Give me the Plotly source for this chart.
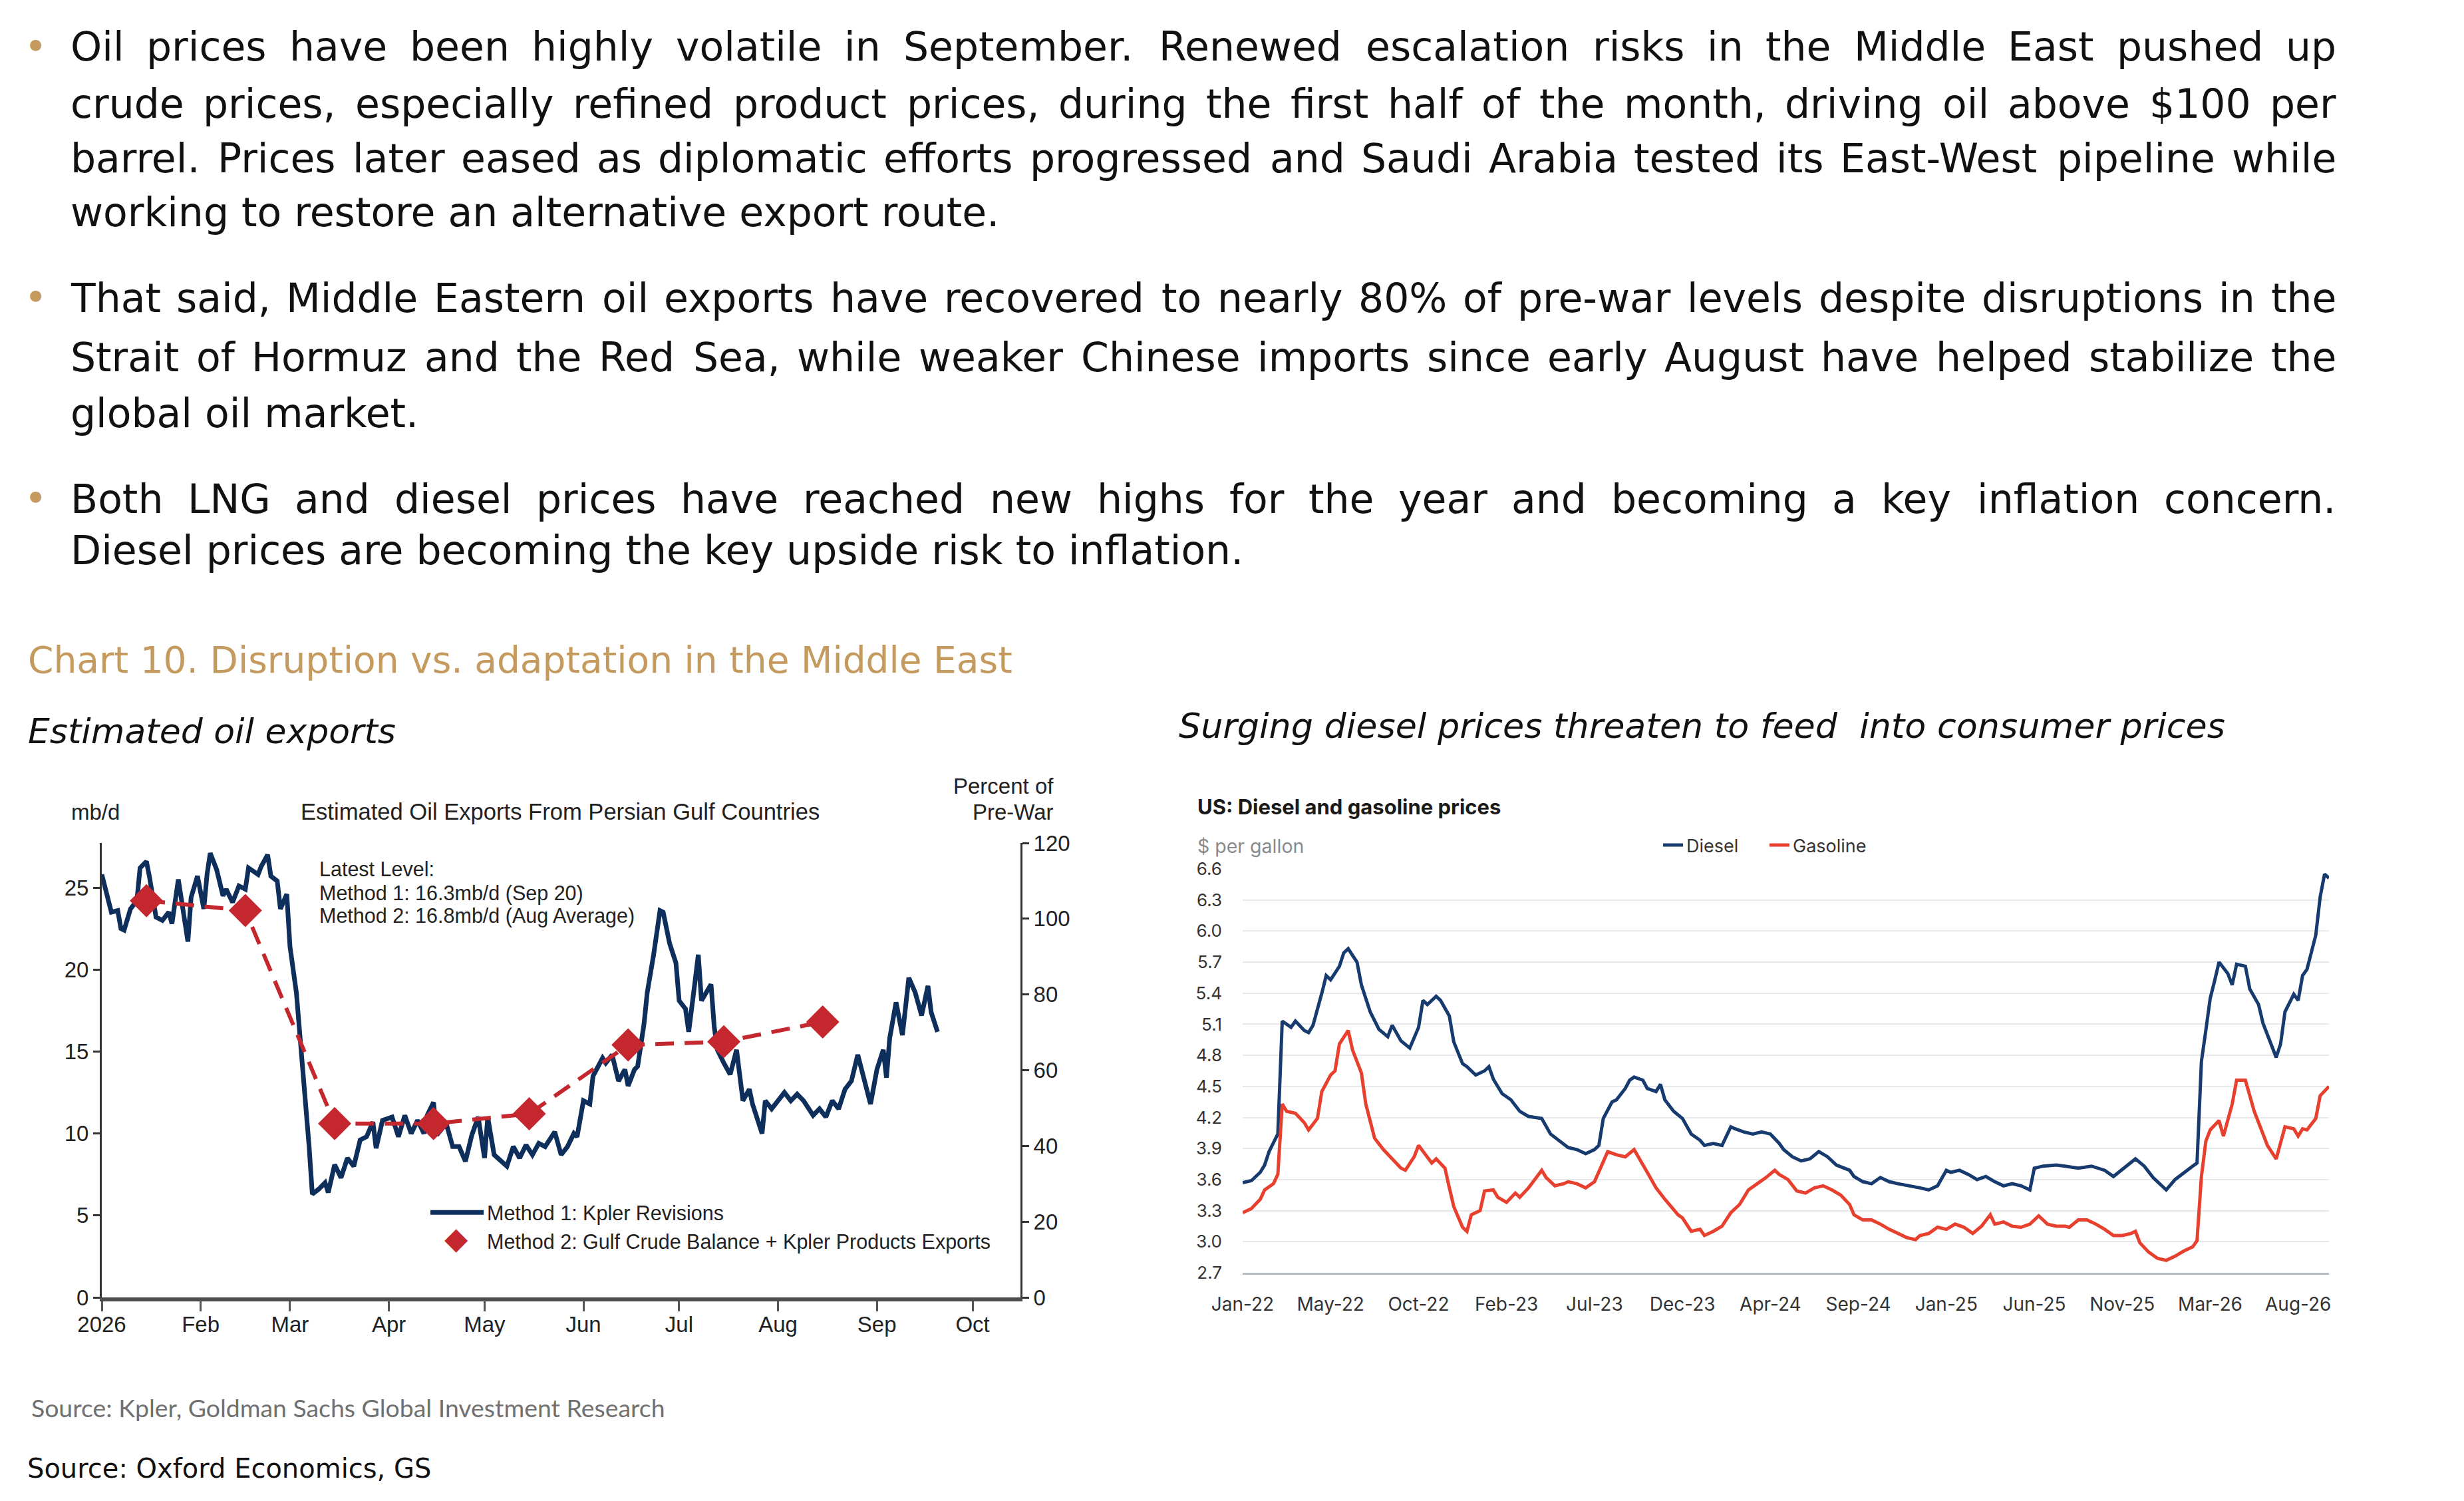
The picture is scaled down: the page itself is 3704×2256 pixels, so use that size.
import pandas as pd
import plotly.graph_objects as go

W, H = 3704, 2256

# ---------------- Left chart: Estimated oil exports (mb/d) ----------------
m1_day = [0, 2, 3, 5, 6, 7, 9, 11, 12, 14,
          15, 17, 19, 21, 22, 24, 27, 28, 30, 32,
          33, 34, 36, 38, 39, 41, 43, 45, 46, 49,
          50, 52, 53, 55, 56, 58, 59, 61, 63, 65,
          66, 68, 70, 71, 73, 75, 77, 79, 81, 83,
          85, 86, 88, 91, 93, 95, 97, 99, 101, 102,
          104, 105, 108, 110, 112, 114, 116, 118, 120, 121,
          123, 125, 127, 129, 131, 133, 135, 137, 139, 142,
          144, 146, 148, 149, 151, 153, 154, 157, 158, 160,
          162, 164, 165, 167, 168, 170, 171, 173, 175, 176,
          178, 180, 181, 183, 184, 186, 187, 188, 191, 192,
          193, 195, 197, 199, 201, 203, 204, 207, 208, 210,
          212, 214, 216, 218, 220, 223, 225, 227, 229, 231,
          233, 235, 237, 240, 241, 243, 245, 246, 247, 249,
          251, 253, 255, 257, 259, 260, 262]
m1_mbd = [25.8, 24.4, 23.5, 23.6, 22.5, 22.4, 23.7, 24.2, 26.2, 26.6,
          25.6, 23.2, 23.0, 23.5, 22.8, 25.5, 21.7, 24.4, 25.7, 23.7,
          25.8, 27.1, 26.1, 24.5, 24.9, 24.1, 25.1, 24.9, 26.2, 25.8,
          26.3, 27.0, 25.7, 25.4, 23.7, 24.6, 21.4, 18.6, 14.1, 9.2,
          6.3, 6.6, 7.0, 6.4, 8.1, 7.3, 8.5, 8.0, 9.6, 9.8,
          10.7, 9.1, 10.8, 11.0, 9.8, 11.1, 10.0, 10.8, 10.0, 11.1,
          11.9, 9.9, 10.6, 9.2, 9.2, 8.3, 9.9, 11.0, 8.5, 11.0,
          8.7, 8.3, 8.0, 9.2, 8.5, 9.3, 8.7, 9.4, 9.2, 10.1,
          8.7, 9.2, 10.0, 9.8, 12.0, 11.8, 13.5, 14.6, 14.3, 14.8,
          13.2, 13.9, 12.9, 13.9, 14.1, 16.7, 18.6, 20.9, 23.6, 23.5,
          21.6, 20.4, 18.1, 17.6, 16.2, 19.3, 20.9, 18.1, 19.1, 16.5,
          15.1, 14.3, 13.6, 15.1, 12.0, 12.7, 11.8, 10.0, 12.0, 11.5,
          12.0, 12.5, 12.0, 12.4, 12.0, 11.1, 11.5, 11.0, 12.0, 11.5,
          12.7, 13.2, 14.8, 12.7, 11.8, 13.9, 15.1, 13.4, 15.8, 18.0,
          16.0, 19.5, 18.6, 17.2, 19.0, 17.4, 16.2]
m2_date = ["2026-01-15", "2026-02-15", "2026-03-15", "2026-04-15",
           "2026-05-15", "2026-06-15", "2026-07-15", "2026-08-15"]
m2_mbd = [24.2, 23.6, 10.6, 10.6, 11.2, 15.4, 15.6, 16.8]
PREWAR_MBD = 23.1
left_month_ticks = ["2026-01-01", "2026-02-01", "2026-03-01", "2026-04-01", "2026-05-01",
                    "2026-06-01", "2026-07-01", "2026-08-01", "2026-09-01", "2026-10-01"]
left_month_labels = ["2026", "Feb", "Mar", "Apr", "May", "Jun", "Jul", "Aug", "Sep", "Oct"]
left_yticks = [0, 5, 10, 15, 20, 25]
right_yticks = [0, 20, 40, 60, 80, 100, 120]

# ---------------- Right chart: US diesel and gasoline ($/gallon, weekly) ----------------
start_week = "2022-01-03"
diesel_week = [0, 2, 4, 5, 6, 7, 8, 9, 11, 12,
               14, 15, 16, 18, 19, 20, 22, 23, 24, 26,
               27, 29, 31, 33, 34, 36, 38, 40, 41, 42,
               44, 45, 47, 48, 50, 51, 53, 55, 56, 57,
               59, 61, 63, 65, 68, 70, 72, 74, 76, 78,
               80, 81, 82, 84, 85, 87, 88, 89, 91, 92,
               94, 95, 96, 98, 100, 102, 104, 105, 107, 109,
               111, 112, 114, 116, 118, 120, 122, 123, 125, 127,
               129, 131, 133, 135, 138, 139, 141, 143, 145, 147,
               149, 152, 154, 156, 158, 160, 161, 163, 165, 167,
               169, 171, 173, 175, 177, 179, 180, 182, 185, 187,
               190, 193, 196, 198, 201, 203, 205, 207, 209, 210,
               212, 214, 216, 217, 218, 219, 220, 221, 222, 224,
               225, 226, 228, 229, 231, 232, 234, 235, 236, 237,
               239, 240, 241, 242, 244, 245, 246, 247]
diesel_price = [3.57, 3.59, 3.67, 3.74, 3.87, 3.95, 4.04, 5.13, 5.07, 5.13,
                5.04, 5.02, 5.09, 5.40, 5.57, 5.53, 5.66, 5.79, 5.83, 5.70,
                5.48, 5.22, 5.05, 4.98, 5.09, 4.94, 4.87, 5.07, 5.33, 5.29,
                5.37, 5.33, 5.18, 4.93, 4.72, 4.69, 4.61, 4.65, 4.69, 4.57,
                4.43, 4.37, 4.26, 4.21, 4.19, 4.04, 3.97, 3.91, 3.89, 3.85,
                3.89, 3.93, 4.19, 4.35, 4.37, 4.48, 4.56, 4.59, 4.56, 4.48,
                4.45, 4.52, 4.37, 4.26, 4.19, 4.04, 3.98, 3.93, 3.95, 3.93,
                4.11, 4.09, 4.06, 4.04, 4.06, 4.04, 3.95, 3.89, 3.82, 3.78,
                3.80, 3.87, 3.82, 3.74, 3.69, 3.63, 3.58, 3.56, 3.62, 3.58,
                3.56, 3.54, 3.52, 3.50, 3.54, 3.69, 3.67, 3.69, 3.65, 3.60,
                3.63, 3.58, 3.54, 3.56, 3.54, 3.50, 3.71, 3.73, 3.74, 3.73,
                3.71, 3.73, 3.69, 3.63, 3.73, 3.80, 3.73, 3.62, 3.54, 3.50,
                3.60, 3.67, 3.73, 3.76, 4.74, 5.04, 5.35, 5.52, 5.70, 5.59,
                5.48, 5.68, 5.66, 5.44, 5.29, 5.11, 4.89, 4.78, 4.91, 5.22,
                5.39, 5.33, 5.57, 5.63, 5.96, 6.33, 6.55, 6.51]
gas_week = [0, 2, 4, 5, 7, 8, 9, 10, 12, 14,
            15, 17, 18, 20, 21, 22, 24, 25, 27, 28,
            30, 32, 34, 36, 37, 39, 40, 41, 43, 44,
            46, 47, 48, 50, 51, 52, 54, 55, 57, 58,
            60, 62, 63, 65, 67, 68, 69, 71, 73, 74,
            76, 78, 80, 82, 83, 85, 87, 89, 90, 92,
            94, 96, 99, 100, 102, 104, 105, 107, 109, 111,
            113, 115, 117, 119, 121, 122, 124, 126, 128, 130,
            132, 134, 136, 138, 139, 141, 143, 145, 147, 149,
            151, 153, 154, 156, 158, 160, 162, 164, 166, 168,
            170, 171, 173, 175, 177, 179, 181, 183, 185, 187,
            188, 190, 192, 194, 196, 198, 200, 202, 203, 204,
            206, 208, 210, 212, 214, 216, 217, 218, 219, 220,
            222, 223, 225, 226, 228, 229, 230, 232, 233, 235,
            236, 237, 239, 240, 241, 242, 244, 245, 247]
gas_price = [3.28, 3.32, 3.41, 3.50, 3.56, 3.65, 4.33, 4.26, 4.24, 4.15,
             4.08, 4.19, 4.45, 4.61, 4.65, 4.91, 5.04, 4.85, 4.63, 4.33,
             4.00, 3.89, 3.80, 3.71, 3.69, 3.82, 3.93, 3.87, 3.76, 3.80,
             3.71, 3.52, 3.34, 3.14, 3.10, 3.26, 3.30, 3.49, 3.50, 3.43,
             3.38, 3.47, 3.43, 3.52, 3.63, 3.69, 3.62, 3.54, 3.56, 3.58,
             3.56, 3.52, 3.58, 3.78, 3.87, 3.84, 3.82, 3.89, 3.82, 3.67,
             3.52, 3.41, 3.26, 3.23, 3.10, 3.12, 3.06, 3.10, 3.15, 3.28,
             3.36, 3.50, 3.56, 3.62, 3.69, 3.65, 3.60, 3.49, 3.47, 3.52,
             3.54, 3.50, 3.45, 3.36, 3.26, 3.21, 3.21, 3.17, 3.12, 3.08,
             3.04, 3.02, 3.06, 3.08, 3.14, 3.12, 3.17, 3.14, 3.08, 3.15,
             3.26, 3.17, 3.19, 3.15, 3.14, 3.17, 3.25, 3.17, 3.15, 3.15,
             3.14, 3.21, 3.21, 3.17, 3.12, 3.06, 3.06, 3.08, 3.10, 2.99,
             2.90, 2.84, 2.82, 2.86, 2.91, 2.95, 3.01, 3.63, 3.97, 4.08,
             4.17, 4.02, 4.33, 4.56, 4.56, 4.41, 4.26, 4.04, 3.93, 3.80,
             3.95, 4.11, 4.09, 4.02, 4.09, 4.08, 4.19, 4.41, 4.50]
price_ticks = [2.7, 3.0, 3.3, 3.6, 3.9, 4.2, 4.5, 4.8, 5.1, 5.4, 5.7, 6.0, 6.3, 6.6]
label_every_weeks = 20

# ---------------- Text ----------------
bullets = [
    ["Oil prices have been highly volatile in September. Renewed escalation risks in the Middle East pushed up",
     "crude prices, especially refined product prices, during the first half of the month, driving oil above $100 per",
     "barrel. Prices later eased as diplomatic efforts progressed and Saudi Arabia tested its East-West pipeline while",
     "working to restore an alternative export route."],
    ["That said, Middle Eastern oil exports have recovered to nearly 80% of pre-war levels despite disruptions in the",
     "Strait of Hormuz and the Red Sea, while weaker Chinese imports since early August have helped stabilize the",
     "global oil market."],
    ["Both LNG and diesel prices have reached new highs for the year and becoming a key inflation concern.",
     "Diesel prices are becoming the key upside risk to inflation."],
]
latest_level_lines = ["Latest Level:", "Method 1: 16.3mb/d (Sep 20)", "Method 2: 16.8mb/d (Aug Average)"]

# ---------------- helpers ----------------
def PX(x):
    return x / W

def PY(y):
    return 1 - y / H

GOLD = "#C49A5E"
NAVY = "#0E2F5C"
RED_GS = "#C4282E"
DIESEL = "#173B6E"
GASOLINE = "#E8402E"
BODY = "DejaVu Sans"
ARIAL = "Liberation Sans, Arial"
MODERN = "Inter"
BODY_SIZE = 60
TEXT_LEFT, TEXT_RIGHT = 104, 3510

# DejaVu Sans advance widths (em) used to justify the paragraph lines
_cw = {" ": .318, ".": .318, ",": .318, "-": .361, "$": .636, "%": .950, "(": .390, ")": .390,
       "a": .613, "b": .635, "c": .550, "d": .635, "e": .615, "f": .352, "g": .635, "h": .634,
       "i": .278, "j": .278, "k": .579, "l": .278, "m": .974, "n": .634, "o": .612, "p": .635,
       "q": .635, "r": .411, "s": .521, "t": .392, "u": .634, "v": .592, "w": .818, "x": .592,
       "y": .592, "z": .525, "A": .684, "B": .686, "C": .698, "D": .770, "E": .632, "F": .575,
       "G": .775, "H": .752, "I": .295, "K": .656, "L": .557, "M": .863, "N": .748, "O": .787,
       "P": .603, "R": .695, "S": .635, "T": .611, "W": .989}
for _d in "0123456789":
    _cw[_d] = .636

def text_w(s, size):
    return sum(_cw.get(ch, .62) for ch in s) * size

d0 = pd.Timestamp("2026-01-01")
m1_dates = [d0 + pd.Timedelta(days=d) for d in m1_day]
m1_pct = [v / PREWAR_MBD * 100 for v in m1_mbd]
w0 = pd.Timestamp(start_week)
diesel_dates = [w0 + pd.Timedelta(weeks=w) for w in diesel_week]
gas_dates = [w0 + pd.Timedelta(weeks=w) for w in gas_week]
last_week = max(diesel_week + gas_week)
x3_ticks = [w0 + pd.Timedelta(weeks=k) for k in range(0, last_week + 1, label_every_weeks)]
x3_text = [t.strftime("%b-%y") for t in x3_ticks]

fig = go.Figure()

# same series expressed as percent of pre-war level (carries the right-hand axis, drawn invisibly)
fig.add_trace(go.Scatter(x=m1_dates, y=m1_pct, mode="lines", showlegend=False, hoverinfo="skip",
                         line=dict(color="rgba(0,0,0,0)", width=0), xaxis="x", yaxis="y2"))
fig.add_trace(go.Scatter(x=m1_dates, y=m1_mbd, mode="lines", name="Method 1: Kpler Revisions",
                         line=dict(color=NAVY, width=7), xaxis="x", yaxis="y", legend="legend"))
fig.add_trace(go.Scatter(x=m2_date, y=m2_mbd, mode="lines", showlegend=False,
                         line=dict(color=RED_GS, width=6, dash="28px,16px"), xaxis="x", yaxis="y"))
fig.add_trace(go.Scatter(x=m2_date, y=m2_mbd, mode="markers",
                         name="Method 2: Gulf Crude Balance + Kpler Products Exports",
                         marker=dict(symbol="diamond", size=33, color=RED_GS,
                                     line=dict(color=RED_GS, width=5)),
                         xaxis="x", yaxis="y", legend="legend"))

fig.add_trace(go.Scatter(x=diesel_dates, y=diesel_price, mode="lines", name="Diesel",
                         line=dict(color=DIESEL, width=5), xaxis="x3", yaxis="y3", legend="legend2"))
fig.add_trace(go.Scatter(x=gas_dates, y=gas_price, mode="lines", name="Gasoline",
                         line=dict(color=GASOLINE, width=5), xaxis="x3", yaxis="y3", legend="legend2"))

ann = []
body_font = dict(family=BODY, size=BODY_SIZE, color="#111111")
# bullet text: every line but the last of a paragraph is justified
line_y = [[70, 156, 238, 319], [448, 537, 621], [750, 827]]
for lines, ys in zip(bullets, line_y):
    for k, (txt, yy) in enumerate(zip(lines, ys)):
        if k == len(lines) - 1:
            ann.append(dict(text=txt, x=PX(TEXT_LEFT), y=PY(yy), xanchor="left", yanchor="middle",
                            font=body_font))
            continue
        words = txt.split(" ")
        widths = [text_w(wd, BODY_SIZE) for wd in words]
        gap = (TEXT_RIGHT - TEXT_LEFT - sum(widths)) / (len(words) - 1)
        xpos = TEXT_LEFT
        for wd, wdw in zip(words, widths):
            ann.append(dict(text=wd, x=PX(xpos), y=PY(yy), xanchor="left", yanchor="middle",
                            font=body_font))
            xpos += wdw + gap
    ann.append(dict(text="\u25CF", x=PX(53), y=PY(ys[0] - 4), xanchor="center", yanchor="middle",
                    font=dict(family=BODY, size=22, color=GOLD)))

for txt, yy in zip(latest_level_lines, [1306, 1342, 1376]):
    ann.append(dict(text=txt, x=PX(478), y=PY(yy), xanchor="left", yanchor="middle",
                    font=dict(family=ARIAL, size=30.5, color="#222222")))

ann += [
    dict(text="Chart 10. Disruption vs. adaptation in the Middle East", x=PX(40), y=PY(992),
         xanchor="left", yanchor="middle", font=dict(family=BODY, size=55, color=GOLD)),
    dict(text="<i>Estimated oil exports</i>", x=PX(40), y=PY(1099), xanchor="left", yanchor="middle",
         font=dict(family=BODY, size=52, color="#111111")),
    dict(text="<i>Surging diesel prices threaten to feed  into consumer prices</i>", x=PX(1770), y=PY(1090),
         xanchor="left", yanchor="middle", font=dict(family=BODY, size=52.3, color="#111111")),
    # left chart texts
    dict(text="mb/d", x=PX(105), y=PY(1220), xanchor="left", yanchor="middle",
         font=dict(family=ARIAL, size=33, color="#222222")),
    dict(text="Estimated Oil Exports From Persian Gulf Countries", x=PX(842), y=PY(1220),
         xanchor="center", yanchor="middle", font=dict(family=ARIAL, size=34.6, color="#222222")),
    dict(text="Percent of", x=PX(1586), y=PY(1181), xanchor="right", yanchor="middle",
         font=dict(family=ARIAL, size=33, color="#222222")),
    dict(text="Pre-War", x=PX(1586), y=PY(1220), xanchor="right", yanchor="middle",
         font=dict(family=ARIAL, size=33, color="#222222")),
    # larger key symbol for Method 2 (sits on the legend entry)
    dict(text="\u25C6", x=PX(686), y=PY(1861), xanchor="center", yanchor="middle",
         font=dict(family=BODY, size=46, color=RED_GS)),
    # right chart texts
    dict(text="<b>US: Diesel and gasoline prices</b>", x=PX(1798), y=PY(1212), xanchor="left", yanchor="middle",
         font=dict(family=MODERN, size=31, color="#1a1a1a")),
    dict(text="$ per gallon", x=PX(1798), y=PY(1271), xanchor="left", yanchor="middle",
         font=dict(family=MODERN, size=28.5, color="#8a8a8a")),
    # sources
    dict(text="Source: Kpler, Goldman Sachs Global Investment Research", x=PX(45), y=PY(2115),
         xanchor="left", yanchor="middle", font=dict(family="Lato", size=37.4, color="#707070")),
    dict(text="Source: Oxford Economics, GS", x=PX(39), y=PY(2207), xanchor="left", yanchor="middle",
         font=dict(family=BODY, size=40, color="#111111")),
]
for a in ann:
    a.setdefault("xref", "paper")
    a.setdefault("yref", "paper")
    a.setdefault("showarrow", False)

fig.update_layout(
    width=W, height=H,
    margin=dict(l=0, r=0, t=0, b=0, autoexpand=False),
    paper_bgcolor="white", plot_bgcolor="rgba(0,0,0,0)",
    annotations=ann,
    xaxis=dict(domain=[PX(153), PX(1534)], anchor="y", type="date", automargin=False,
               range=["2026-01-01", "2026-10-16"],
               tickmode="array", tickvals=left_month_ticks, ticktext=left_month_labels,
               ticks="outside", ticklen=15, tickwidth=3, tickcolor="#555555",
               showline=True, linewidth=6, linecolor="#4d4d4d", showgrid=False, zeroline=False,
               ticklabelstandoff=-9,
               tickfont=dict(family=ARIAL, size=33, color="#222222")),
    yaxis=dict(domain=[PY(1950), PY(1267)], anchor="x", automargin=False,
               range=[0, 1.2 * PREWAR_MBD], tickmode="array", tickvals=left_yticks,
               ticks="outside", ticklen=10, tickwidth=3, tickcolor="#333333",
               showline=True, linewidth=3, linecolor="#333333", showgrid=False, zeroline=False,
               tickfont=dict(family=ARIAL, size=33, color="#222222")),
    yaxis2=dict(overlaying="y", side="right", anchor="x", automargin=False,
                range=[0, 120], tickmode="array", tickvals=right_yticks,
                ticks="outside", ticklen=10, tickwidth=3, tickcolor="#333333",
                showline=True, linewidth=3, linecolor="#333333", showgrid=False, zeroline=False,
                tickfont=dict(family=ARIAL, size=33, color="#222222")),
    xaxis3=dict(domain=[PX(1868), PX(3501)], anchor="y3", type="date", automargin=False,
                range=[diesel_dates[0], diesel_dates[-1]],
                tickmode="array", tickvals=x3_ticks, ticktext=x3_text,
                ticks="", showline=True, linewidth=3, linecolor="#b5bcc4",
                showgrid=False, zeroline=False, ticklabelstandoff=20,
                tickfont=dict(family=MODERN, size=28, color="#333333")),
    yaxis3=dict(domain=[PY(1913), PY(1306)], anchor="x3", automargin=False,
                range=[2.7, 6.6], tickmode="array", tickvals=price_ticks,
                ticktext=[f"{v:.1f}" for v in price_ticks],
                ticks="", showline=False, showgrid=True, gridcolor="#e6e8eb", gridwidth=2,
                zeroline=False, ticklabelstandoff=30,
                tickfont=dict(family=MODERN, size=26, color="#333333")),
    legend=dict(x=PX(642), y=PY(1796), xanchor="left", yanchor="top",
                bgcolor="rgba(0,0,0,0)", font=dict(family=ARIAL, size=30.5, color="#222222"),
                tracegroupgap=0, itemwidth=80),
    legend2=dict(orientation="h", x=PX(2495), y=PY(1246), xanchor="left", yanchor="top",
                 bgcolor="rgba(0,0,0,0)", font=dict(family=MODERN, size=27, color="#333333"),
                 entrywidth=115, entrywidthmode="pixels"),
)

fig.write_html("out.html")
